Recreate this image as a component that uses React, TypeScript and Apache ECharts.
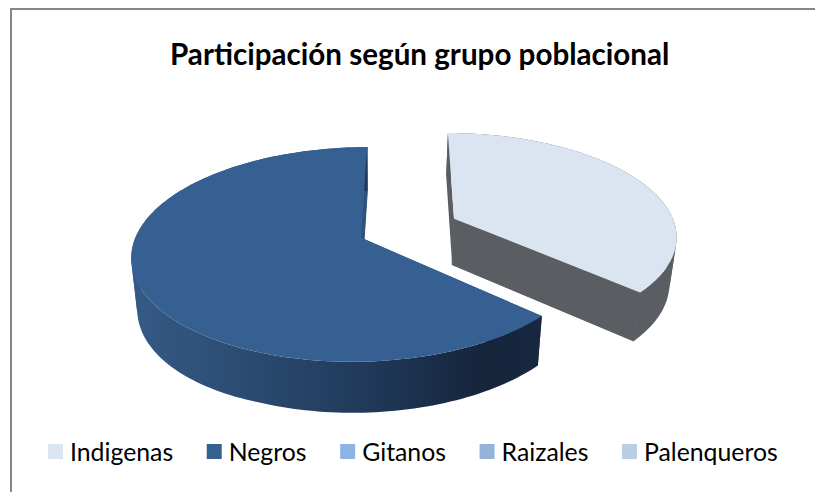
import React, { useEffect, useRef } from "react";
import * as echarts from "echarts";

const titleText = "Participación según grupo poblacional";
const categories = ["Indigenas", "Negros", "Gitanos", "Raizales", "Palenqueros"];
const values = [36.7, 63.3, 0, 0, 0];
const colors = ["#DBE5F1", "#376092", "#8EB4E3", "#95B3D7", "#B9CDE5"];

const total = values.reduce((a, b) => a + b, 0);

// Perspective model of the exploded 3D disc
const VX = 408, VY = 228, RX = 222, RY = 101.6, K = 0.155, EXPLODE = 0.23;
const BOTTOM_VX = 378, BOTTOM_SCALE = 0.9756;
const STEPS = 160;

const project = (u: number, v: number): [number, number] => {
  const w = 1 + K * v;
  return [VX + (RX * u) / w, VY - (RY * v) / w];
};
const drop = (p: number[]): [number, number] => [
  BOTTOM_VX + (p[0] - BOTTOM_VX) * BOTTOM_SCALE,
  p[1] + 46 + (p[1] - 218) * 0.035 + Math.max(0, 260 - p[0]) * 0.03,
];

const wallFill = (i: number): any =>
  i === 0
    ? "#5A5D61"
    : {
        type: "linear",
        global: true,
        x: 132,
        y: 0,
        x2: 541,
        y2: 0,
        colorStops: [
          { offset: 0, color: "#355A86" },
          { offset: 0.3, color: "#2B4A70" },
          { offset: 0.6, color: "#1F3857" },
          { offset: 0.85, color: "#15253C" },
          { offset: 1, color: "#16273F" },
        ],
      };
const edgeFill = (i: number) => (i === 0 ? "#5A5D61" : "#2E527C");

const makeRender = (index: number) => (_params: any, api: any) => {
  const value = api.value(0);
  if (!value) return null;
  const before = values.slice(0, index).reduce((a, b) => a + b, 0);
  const a0 = (before / total) * Math.PI * 2;
  const a1 = ((before + value) / total) * Math.PI * 2;
  const mid = (a0 + a1) / 2;
  const u0 = Math.sin(mid) * EXPLODE;
  const v0 = Math.cos(mid) * EXPLODE;
  const arc: [number, number][] = [];
  for (let s = 0; s <= STEPS; s++) {
    const a = a0 + ((a1 - a0) * s) / STEPS;
    arc.push(project(u0 + Math.sin(a), v0 + Math.cos(a)));
  }
  const apex = project(u0, v0);
  const lower = arc.map(drop);
  const poly = (points: number[][], fill: any, stroke?: any) => ({
    type: "polygon",
    shape: { points },
    style: stroke ? { fill, stroke, lineWidth: 1 } : { fill },
  });
  // split the outer wall where it folds over, so each ribbon fills on its own
  const ribbons: any[] = [];
  let startIdx = 0;
  let prevSign = 0;
  const pushRibbon = (from: number, to: number) => {
    ribbons.push(
      poly([...arc.slice(from, to + 1), ...lower.slice(from, to + 1).reverse()], wallFill(index))
    );
  };
  for (let s = 0; s < STEPS; s++) {
    const dx = arc[s + 1][0] - arc[s][0];
    const dy = arc[s + 1][1] - arc[s][1];
    const ex = lower[s][0] - arc[s][0];
    const ey = lower[s][1] - arc[s][1];
    const sign = Math.sign(dx * ey - dy * ex);
    if (prevSign && sign && sign !== prevSign) {
      pushRibbon(startIdx, s);
      startIdx = s;
    }
    if (sign) prevSign = sign;
  }
  pushRibbon(startIdx, STEPS);
  const first = arc[0];
  const last = arc[arc.length - 1];
  return {
    type: "group",
    children: [
      poly([first, apex, drop(apex), drop(first)], edgeFill(index)),
      poly([apex, last, drop(last), drop(apex)], edgeFill(index), edgeFill(index)),
      ...ribbons,
      poly([apex, ...arc], colors[index]),
    ],
  };
};

export default function App() {
  const ref = useRef<HTMLDivElement>(null);
  useEffect(() => {
    document.body.style.margin = "0";
    const chart = echarts.init(ref.current!, null, { renderer: "svg" });
    chart.setOption({
      animation: false,
      backgroundColor: "#ffffff",
      title: {
        text: titleText,
        left: 165,
        top: 33,
        textStyle: {
          fontFamily: "Lato",
          fontWeight: "bold",
          fontSize: 29.6,
          color: "#000000",
        },
      },
      legend: {
        left: 43,
        top: 434,
        icon: "rect",
        itemWidth: 15,
        itemHeight: 15,
        itemGap: 33.6,
        data: categories,
        textStyle: { fontFamily: "Lato", fontSize: 24.8, color: "#000000", padding: [0, 0, 0, 2] },
        selectedMode: false,
      },
      graphic: [
        { type: "line", shape: { x1: 11, y1: 9, x2: 815, y2: 9 }, style: { stroke: "#868686", lineWidth: 2 } },
        { type: "line", shape: { x1: 11, y1: 8, x2: 11, y2: 492 }, style: { stroke: "#868686", lineWidth: 2 } },
      ],
      series: categories.map((name, i) => ({
        type: "custom",
        name,
        coordinateSystem: "none",
        silent: true,
        itemStyle: { color: colors[i] },
        renderItem: makeRender(i),
        data: [[values[i]]],
      })),
    });
    return () => chart.dispose();
  }, []);
  return <div ref={ref} style={{ width: 815, height: 492 }} />;
}
